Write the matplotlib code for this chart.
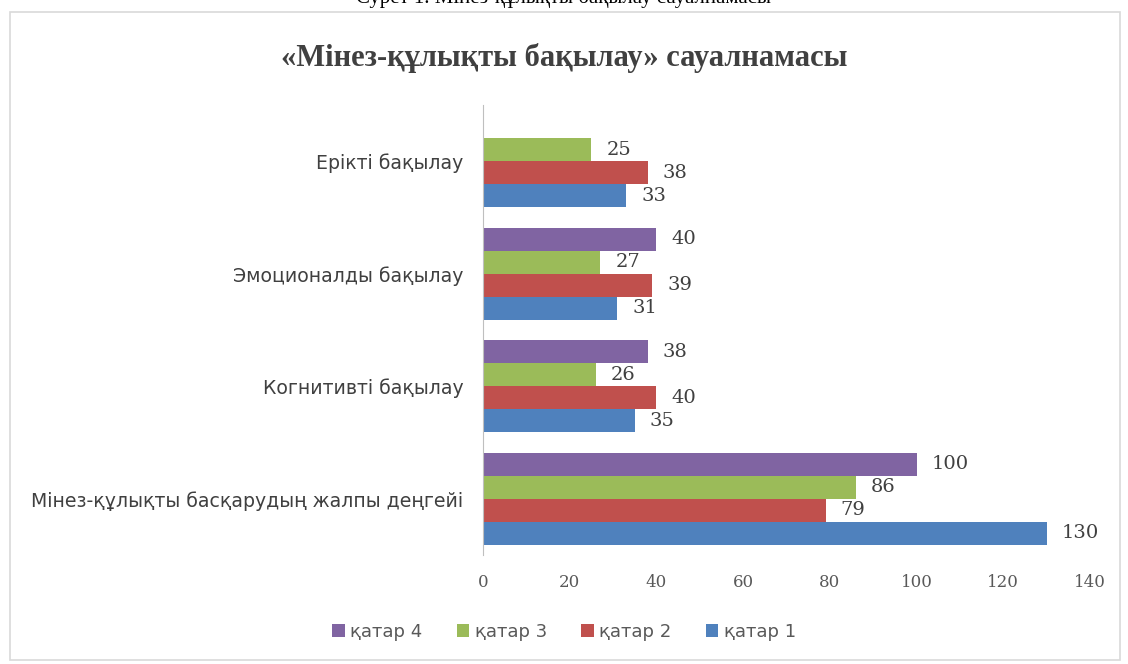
import matplotlib
matplotlib.use("Agg")
import matplotlib.pyplot as plt
import numpy as np
from matplotlib.patches import Rectangle

categories = ["Мінез-құлықты басқарудың жалпы деңгейі", "Когнитивті бақылау",
              "Эмоционалды бақылау", "Ерікті бақылау"]
series_names = ["қатар 1", "қатар 2", "қатар 3", "қатар 4"]
s1 = [130, 35, 31, 33]
s2 = [79, 40, 39, 38]
s3 = [86, 26, 27, 25]
s4 = [100, 38, 40, np.nan]
colors = ["#4F81BD", "#C0504D", "#9BBB59", "#8064A2"]
xticks = [0, 20, 40, 60, 80, 100, 120, 140]

fig = plt.figure(figsize=(11.28, 6.64), dpi=100)
fig.patches.append(Rectangle((10/1128, 4/664), 1110/1128, 648/664, transform=fig.transFigure,
                             fill=False, edgecolor="#D9D9D9", lw=1.2))
fig.text(0.5, 1.003, "Сурет 1. Мінез-құлықты бақылау сауалнамасы", ha="center", va="center",
         fontsize=15, family="Liberation Serif", color="black")
fig.text(0.5, 0.913, "«Мінез-құлықты бақылау» сауалнамасы", ha="center", va="center",
         fontsize=22, fontweight="bold", family="Liberation Serif", color="#404040")

ax = fig.add_axes([483/1128, 1 - 555/664, (1090-483)/1128, (555-105)/664])
y = np.arange(len(categories))
h = 0.205
handles = []
for k, (vals, c) in enumerate(zip([s1, s2, s3, s4], colors)):
    pos = y + (k - 1.5) * h
    b = ax.barh(pos, vals, height=h, color=c, edgecolor="none", label=series_names[k])
    handles.append(b)
    for p, v in zip(pos, vals):
        if not np.isnan(v):
            ax.text(v + 3.5, p, f"{v:g}", va="center", ha="left", fontsize=14,
                    family="DejaVu Serif", color="#404040")

ax.set_xlim(0, 140)
ax.set_ylim(-0.5, 3.5)
ax.set_xticks(xticks)
ax.set_xticklabels([str(t) for t in xticks], family="DejaVu Serif", fontsize=12, color="#595959")
ax.set_yticks(y)
ax.set_yticklabels(categories, fontsize=13.6, color="#404040")
ax.tick_params(axis="x", length=0, pad=14)
ax.tick_params(axis="y", length=0, pad=14)
for s in ["top", "right", "bottom"]:
    ax.spines[s].set_visible(False)
ax.spines["left"].set_color("#BFBFBF")

leg = fig.legend(handles[::-1], series_names[::-1], loc="center", bbox_to_anchor=(0.5, 1 - 632/664),
                 ncol=4, frameon=False, fontsize=13, handlelength=0.7, handleheight=0.7,
                 handletextpad=0.3, columnspacing=1.9)
for t in leg.get_texts():
    t.set_color("#595959")

fig.savefig("out.png", dpi=100)
